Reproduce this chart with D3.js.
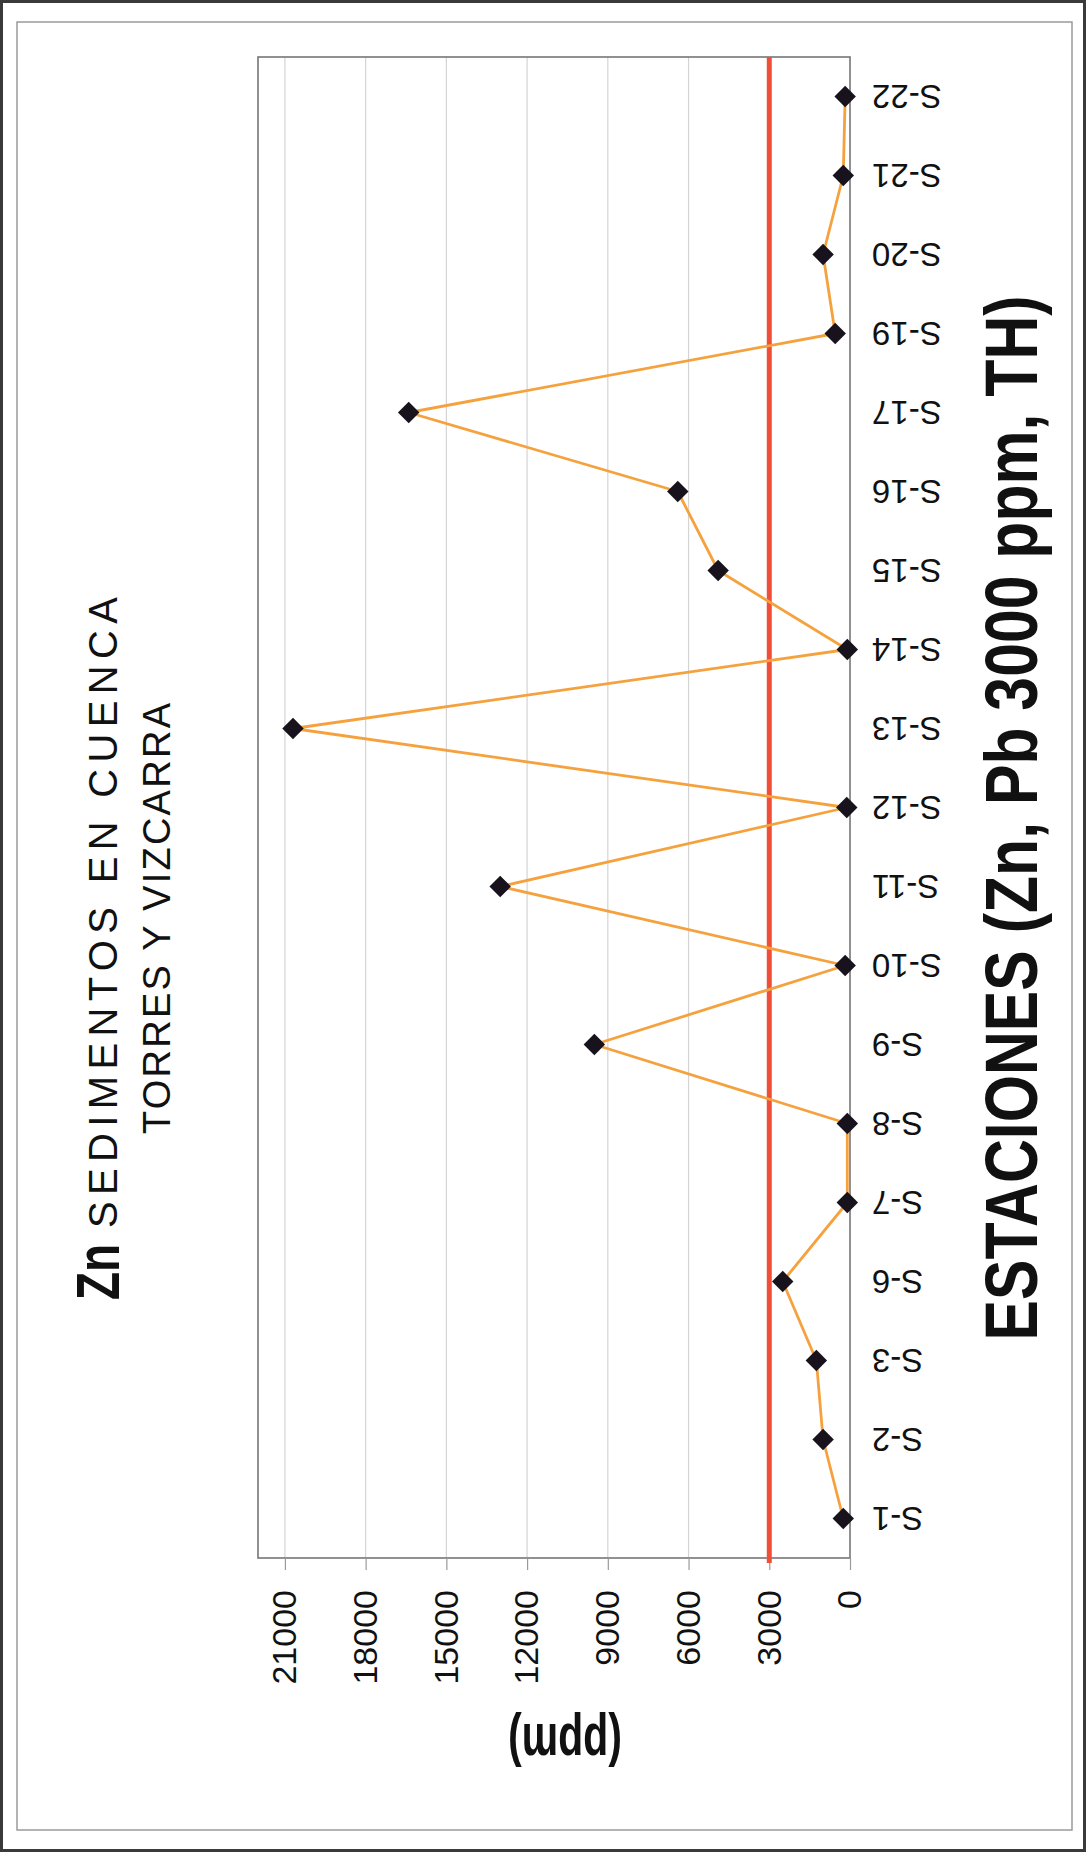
<!DOCTYPE html>
<html>
<head>
<meta charset="utf-8">
<script src="https://cdn.jsdelivr.net/npm/d3@7"></script>
<style>
  html, body { margin: 0; padding: 0; background: #ffffff; }
  svg { display: block; }
  text { font-family: "Liberation Sans", Arial, Helvetica, sans-serif; fill: #111; }
</style>
</head>
<body>
<script>
// Sampling stations along the Torres y Vizcarra basin
const categories = ["S-1", "S-2", "S-3", "S-6", "S-7", "S-8", "S-9", "S-10", "S-11", "S-12",
                    "S-13", "S-14", "S-15", "S-16", "S-17", "S-19", "S-20", "S-21", "S-22"];
// Zn concentration in sediments (ppm)
const zincPpm = [250, 1000, 1250, 2500, 100, 100, 9500, 180, 13000, 120,
                 20700, 100, 4900, 6400, 16400, 550, 1000, 250, 180];
// Reference limit (Zn, Pb 3000 ppm)
const thresholdPpm = 3000;
const valueTicks = [0, 3000, 6000, 9000, 12000, 15000, 18000, 21000];
const valueMax = 22000;

const W = 1086, H = 1852;
const svg = d3.select("body").append("svg")
  .attr("width", W).attr("height", H)
  .attr("viewBox", `0 0 ${W} ${H}`);

svg.append("rect").attr("width", W).attr("height", H).attr("fill", "#ffffff");

// page frames
svg.append("rect").attr("x", 1.5).attr("y", 1.5).attr("width", W - 3).attr("height", H - 3)
  .attr("fill", "none").attr("stroke", "#3a3a3a").attr("stroke-width", 3);
svg.append("rect").attr("x", 17).attr("y", 22).attr("width", 1055).attr("height", 1808)
  .attr("fill", "none").attr("stroke", "#9a9a9a").attr("stroke-width", 1.5);

// The chart is laid out in landscape and turned a quarter turn onto the page.
const g = svg.append("g").attr("transform", `translate(0,${H}) rotate(-90)`);

const plotLeft = 294, plotRight = 1795, plotTop = 258, plotBottom = 850;

const x = d3.scaleBand().domain(categories).range([plotLeft, plotRight]);
const y = d3.scaleLinear().domain([0, valueMax]).range([plotBottom, plotTop]);
const cx = c => x(c) + x.bandwidth() / 2;

// gridlines
g.append("g").selectAll("line")
  .data(valueTicks.filter(t => t > 0))
  .join("line")
  .attr("x1", plotLeft).attr("x2", plotRight)
  .attr("y1", d => y(d)).attr("y2", d => y(d))
  .attr("stroke", "#d4d4d4").attr("stroke-width", 1.2);

// plot border
g.append("rect")
  .attr("x", plotLeft).attr("y", plotTop)
  .attr("width", plotRight - plotLeft).attr("height", plotBottom - plotTop)
  .attr("fill", "none").attr("stroke", "#767676").attr("stroke-width", 1.6);

// value axis
const yAxis = g.append("g")
  .attr("transform", `translate(${plotLeft},0)`)
  .call(d3.axisLeft(y).tickValues(valueTicks).tickSize(12).tickPadding(20).tickFormat(d3.format("d")));
yAxis.select(".domain").remove();
yAxis.selectAll(".tick line").attr("stroke", "#9a9a9a").attr("stroke-width", 1.2);
yAxis.selectAll(".tick text")
  .attr("font-size", 34)
  .attr("fill", "#111")
  .attr("font-family", "'Liberation Sans', Arial, sans-serif");

// category axis
const xAxis = g.append("g")
  .attr("transform", `translate(0,${plotBottom})`)
  .call(d3.axisBottom(x).tickSize(0));
xAxis.select(".domain").remove();
xAxis.selectAll(".tick text")
  .attr("transform", "rotate(-90)")
  .attr("text-anchor", "end")
  .attr("x", -22).attr("y", 0).attr("dy", "0.36em")
  .attr("font-size", 33)
  .attr("fill", "#111")
  .attr("font-family", "'Liberation Sans', Arial, sans-serif");

// threshold line
g.append("line")
  .attr("x1", plotLeft - 5).attr("x2", plotRight)
  .attr("y1", y(thresholdPpm)).attr("y2", y(thresholdPpm))
  .attr("stroke", "#f04e38").attr("stroke-width", 5);

// Zn series
const series = categories.map((c, i) => ({ cat: c, v: zincPpm[i] }));
g.append("path")
  .datum(series)
  .attr("fill", "none")
  .attr("stroke", "#f5a23e")
  .attr("stroke-width", 2.8)
  .attr("stroke-linejoin", "round")
  .attr("d", d3.line().x(d => cx(d.cat)).y(d => y(d.v)));

g.append("g").selectAll("path")
  .data(series)
  .join("path")
  .attr("d", d3.symbol(d3.symbolSquare, 230))
  .attr("transform", d => `translate(${cx(d.cat)},${y(d.v)}) rotate(45)`)
  .attr("fill", "#17121c");

// titles
g.append("text")
  .attr("x", 552).attr("y", 119)
  .attr("font-size", 62).attr("font-weight", "bold")
  .attr("font-family", "'Liberation Sans Narrow', 'Liberation Sans', Arial, sans-serif")
  .attr("textLength", 56).attr("lengthAdjust", "spacingAndGlyphs")
  .text("Zn");
g.append("text")
  .attr("x", 624).attr("y", 117)
  .attr("font-size", 40)
  .attr("textLength", 631).attr("lengthAdjust", "spacing")
  .text("SEDIMENTOS EN CUENCA");
g.append("text")
  .attr("x", 718).attr("y", 170)
  .attr("font-size", 38)
  .attr("textLength", 431).attr("lengthAdjust", "spacing")
  .text("TORRES Y VIZCARRA");

// axis titles
g.append("text")
  .attr("x", 1034).attr("y", 1037)
  .attr("text-anchor", "middle")
  .attr("font-size", 74).attr("font-weight", "bold")
  .attr("font-family", "'Liberation Sans Narrow', 'Liberation Sans', Arial, sans-serif")
  .attr("textLength", 1045).attr("lengthAdjust", "spacingAndGlyphs")
  .text("ESTACIONES (Zn, Pb 3000 ppm, TH)");
g.append("text")
  .attr("transform", "translate(128,565) rotate(-90)")
  .attr("text-anchor", "middle")
  .attr("font-size", 60).attr("font-weight", "bold")
  .attr("font-family", "'Liberation Sans Narrow', 'Liberation Sans', Arial, sans-serif")
  .attr("textLength", 114).attr("lengthAdjust", "spacingAndGlyphs")
  .text("(ppm)");
</script>
</body>
</html>
